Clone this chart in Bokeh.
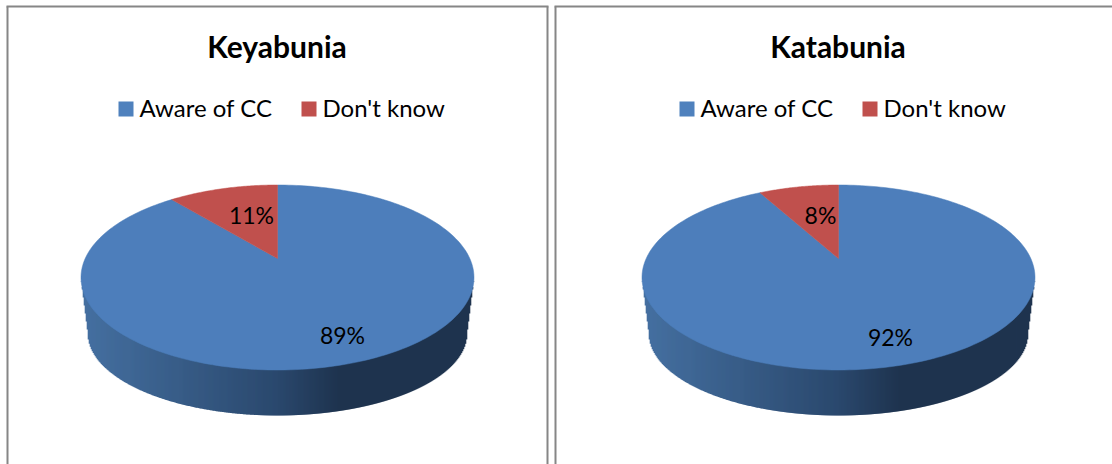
import numpy as np
from bokeh.core.properties import value
from bokeh.embed import file_html
from bokeh.layouts import row
from bokeh.models import Range1d
from bokeh.plotting import figure
from bokeh.resources import INLINE

# Survey answers per village, in percent
villages = ["Keyabunia", "Katabunia"]
categories = ["Aware of CC", "Don't know"]
aware_pct = [89, 92]
unknown_pct = [11, 8]

BLUE = "#4d7ebb"
RED = "#c0504d"
BORDER = "#868686"
FONT = value("Lato")
WINDOW_H = 464
SPLIT_X = 551

# Perspective constants of the tilted disc
TILT = 0.2054
DISC_R = 192.3
LIFT_A, LIFT_B = -35.6, 258.0


def project(cx, theta):
    """Map a clockwise angle from 12 o'clock on the disc to screen coordinates."""
    u, v = np.sin(theta), np.cos(theta)
    d = TILT * v + 1
    return cx + DISC_R * u / d, (LIFT_A * v + LIFT_B) / d


def side_colour(t):
    """Shading across the rim, left (t=0) to right (t=1)."""
    stops_t = [0.0, 0.5, 0.66, 1.0]
    stops = np.array([[70, 113, 162], [43, 73, 110], [31, 52, 79], [31, 52, 79]])
    rgb = [int(np.interp(t, stops_t, stops[:, i])) for i in range(3)]
    return "#%02x%02x%02x" % tuple(rgb)


def draw_panel(x0, x1, name, aware, unknown, cx, left_edge, right_edge, label_pos):
    p = figure(
        width=x1 - x0, height=WINDOW_H, output_backend="svg", toolbar_location=None,
        x_range=Range1d(x0, x1), y_range=Range1d(WINDOW_H, 0),
        min_border=0, outline_line_color=None, background_fill_color="white",
    )
    p.axis.visible = False
    p.grid.visible = False

    # Frame of the chart area
    p.segment([left_edge], [6], [left_edge], [WINDOW_H], line_color=BORDER, line_width=2)
    if right_edge is not None:
        p.segment([right_edge], [6], [right_edge], [WINDOW_H], line_color=BORDER, line_width=2)
    p.segment([left_edge - 1], [6], [right_edge + 1 if right_edge else x1], [6],
              line_color=BORDER, line_width=2)

    # Rim of the disc, one shaded column per pixel
    rx_top, ry_top, cy_top = 196.5, 92.5, 277.0
    rx_bot, ry_bot, cy_bot = 189.5, 82.0, 333.0
    xs = np.arange(cx - rx_top, cx + rx_top, 1.0)
    lefts, rights, tops, bottoms, colours = [], [], [], [], []
    for x in xs:
        mid = x + 0.5
        top = cy_top + ry_top * np.sqrt(max(0, 1 - ((mid - cx) / rx_top) ** 2))
        off = abs(mid - cx)
        if off <= rx_bot:
            bot = cy_bot + ry_bot * np.sqrt(1 - (off / rx_bot) ** 2)
        else:
            bot = cy_bot + (cy_top - cy_bot) * (off - rx_bot) / (rx_top - rx_bot)
        lefts.append(x - 0.3)
        rights.append(x + 1.3)
        tops.append(top - 2)
        bottoms.append(bot)
        colours.append(side_colour((mid - cx + rx_top) / (2 * rx_top)))
    p.quad(left=lefts, right=rights, top=tops, bottom=bottoms, fill_color=colours, line_color=None)

    # Slices: "Don't know" runs counter-clockwise from 12 o'clock
    total = aware + unknown
    split = 2 * np.pi * unknown / total
    t_red = np.linspace(-split, 0, 60)
    t_blue = np.linspace(0, 2 * np.pi - split, 240)
    bx, by = project(cx, t_blue)
    rx, ry = project(cx, t_red)
    apex_y = LIFT_B
    p.patch(list(bx) + [cx], list(by) + [apex_y], fill_color=BLUE, line_color=BLUE, line_width=0.5)
    p.patch(list(rx) + [cx], list(ry) + [apex_y], fill_color=RED, line_color=RED, line_width=0.5)

    # Percentage labels
    p.text([label_pos[0][0]], [label_pos[0][1]], text=[f"{unknown}%"], text_font=FONT,
           text_font_size="23px", text_align="center", text_baseline="middle", text_color="black")
    p.text([label_pos[1][0]], [label_pos[1][1]], text=[f"{aware}%"], text_font=FONT,
           text_font_size="23px", text_align="center", text_baseline="middle", text_color="black")

    # Title
    p.text([cx - 0.5], [45], text=[name], text_font=FONT, text_font_style="bold",
           text_font_size="30px", text_align="center", text_baseline="middle", text_color="black")

    # Legend
    sq = cx - 159
    p.quad(left=[sq, sq + 183], right=[sq + 15, sq + 198], top=[101, 101], bottom=[116, 116],
           fill_color=["#4f81bd", RED], line_color=None)
    p.text([sq + 21, sq + 204], [107, 107], text=categories, text_font=FONT,
           text_font_size="24px", text_align="left", text_baseline="middle", text_color="black")
    return p


left = draw_panel(0, SPLIT_X, villages[0], aware_pct[0], unknown_pct[0], 277.0, 7, 547,
                  [(251, 214), (342, 334)])
right = draw_panel(SPLIT_X, 1112, villages[1], aware_pct[1], unknown_pct[1], 838.0, 555, None,
                   [(820, 214), (890, 336)])

page = row(left, right)
open("out.html", "w").write(file_html(page, INLINE))
